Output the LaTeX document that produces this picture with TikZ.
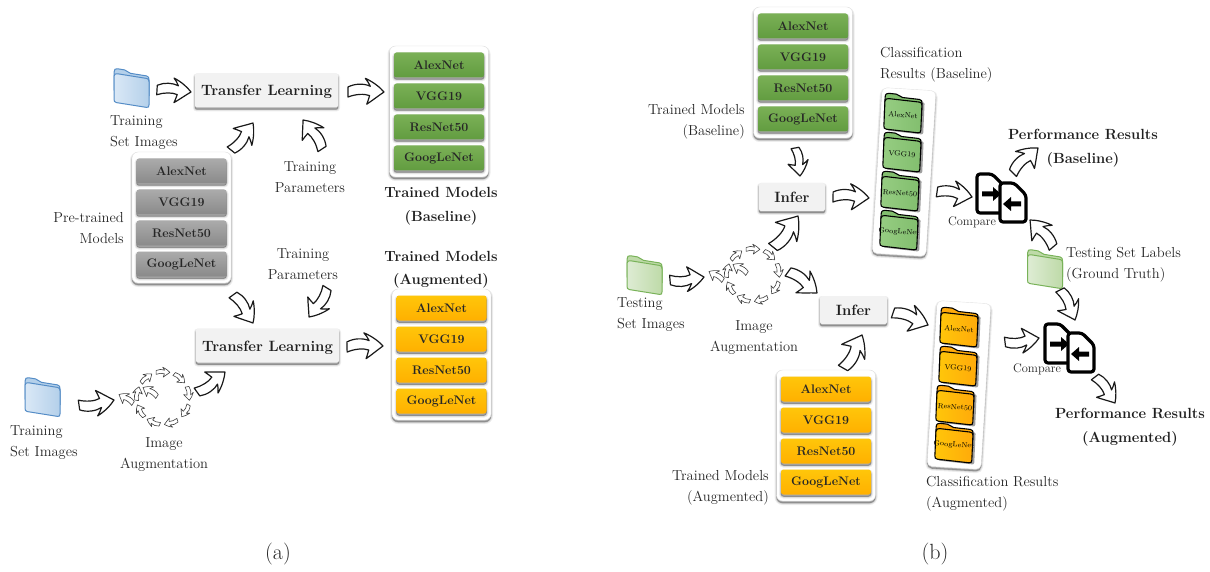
\documentclass[tikz,border=0pt]{standalone}
\usepackage{fontspec}
\usetikzlibrary{calc}
\definecolor{txt}{RGB}{38,38,38}
\tikzset{
  softshadow/.style={
    preaction={draw=black,fill=black,draw opacity=.07,fill opacity=.07,line width=4pt,transform canvas={yshift=-2pt}},
    preaction={draw=black,fill=black,draw opacity=.10,fill opacity=.10,line width=2pt,transform canvas={yshift=-2pt}},
    preaction={draw=black,fill=black,draw opacity=.15,fill opacity=.15,line width=.6pt,transform canvas={yshift=-2pt}}},
  lab/.style={inner sep=0pt,align=center,text=txt,yshift=-1.5pt,font=\fontsize{14.5}{21}\selectfont},
  labl/.style={lab,align=left,anchor=west},
  labr/.style={lab,align=right,anchor=east},
  head/.style={inner sep=0pt,align=center,text=black!88,yshift=-2pt,font=\fontsize{14.7}{23.5}\selectfont\bfseries},
  small/.style={inner sep=0pt,text=txt,font=\fontsize{12.4}{14}\selectfont},
  panel/.style={draw=black!12,fill=white,rounded corners=6pt,minimum width=99pt,minimum height=131pt,inner sep=0pt,softshadow},
  tallpanel/.style={draw=black!10,fill=white,rounded corners=5pt,minimum width=54pt,minimum height=166pt,inner sep=0pt,rotate=-3.5,softshadow},
  btn/.style={rounded corners=2.5pt,minimum width=90pt,minimum height=25pt,inner sep=0pt,softshadow,font=\fontsize{12.4}{14}\selectfont\bfseries,text=black!85},
  graybtn/.style={btn,top color=black!33,bottom color=black!46},
  greenbtn/.style={btn,top color={rgb,255:red,122;green,176;blue,86},bottom color={rgb,255:red,98;green,156;blue,64}},
  orangebtn/.style={btn,top color={rgb,255:red,255;green,198;blue,10},bottom color={rgb,255:red,255;green,176;blue,0}},
  procbox/.style={fill=black!5,rounded corners=2pt,inner sep=0pt,text height=12pt,text depth=1pt,softshadow,font=\fontsize{14.9}{16}\selectfont\bfseries,text=black!88},
  blockarrow/.style={draw=black!90,fill=white,line width=1.2pt,line join=round},
  tinyarrow/.style={draw=black!75,fill=white,line width=.6pt,line join=round},
  foldertext/.style={inner sep=0pt,rotate=-4,text=black,font=\fontsize{7.3}{8}\selectfont},
  pics/folder/.style n args={4}{code={
    % #1 left colour, #2 right colour, #3 outline, #4 outline width
    \path[draw=#3,line width=#4,line join=round,fill=#2]
      (-17.5,-13) .. controls (-17.5,-16) and (-16,-17) .. (-14,-17) -- (-7,-17) .. controls (-4,-17) and (-4,-14.5) .. (-1,-14.5) -- (15,-14.5) .. controls (17,-14.5) and (17.5,-13) .. (17.5,-11) -- (17.5,5) -- (-17.5,5) -- cycle;
    \path[draw=#3,line width=#4,line join=round,left color=#1,right color=#2]
      (-17.5,-9) .. controls (-17.5,-11) and (-16,-12) .. (-14,-12) -- (15,-12) .. controls (17,-12) and (17.5,-11) .. (17.5,-9) -- (17.5,14) .. controls (17.5,16) and (17,17) .. (15,17) -- (-15,17) .. controls (-17,17) and (-17.5,16) .. (-17.5,14) -- cycle;
  }},
  pics/foldershade/.style={code={
    \path[fill=black,fill opacity=.38,rounded corners=2pt] (-17.5,-14) -- (17.5,-14) -- (17.5,17) -- (-17.5,17) -- cycle;
  }},
  pics/docpair/.style={code={
    \path[draw=black,line width=3.2pt,fill=white,line join=round,rounded corners=3pt]
      (-25,-23) -- (-10,-23) -- (1,-12) -- (1,16) -- (-25,16) -- cycle;
    \path[fill=black] (-20,-5.5) -- (-9,-5.5) -- (-9,-10) -- (-1,-3) -- (-9,4) -- (-9,-.5) -- (-20,-.5) -- cycle;
    \path[draw=black,line width=3.2pt,fill=white,line join=round,rounded corners=3pt]
      (-2,-14) -- (12,-14) -- (24,-2) -- (24,25) -- (-2,25) -- cycle;
    \path[fill=black] (19,4.5) -- (9,4.5) -- (9,0) -- (1,7) -- (9,14) -- (9,9.5) -- (19,9.5) -- cycle;
  }}
}
% block arrow from one named coordinate to another
\newcommand{\blockconn}[4][blockarrow]{%
  \path let \p1=($(#3)-(#2)$) in \pgfextra{%
    \pgfmathsetmacro\harrang{atan2(\y1,\x1)}%
    \pgfmathsetmacro\harrlen{veclen(\x1,\y1)/100}%
    \xdef\harrang{\harrang}\xdef\harrscale{\harrlen}};
  \begin{scope}[shift={(#2)},rotate=\harrang,scale=\harrscale,yscale=#4]
    \path[#1] (0,-14) .. controls (20,-24) and (45,-24) .. (62,-16)
      .. controls (58,-24) and (54,-31) .. (48,-38)
      .. controls (70,-28) and (88,-14) .. (100,0)
      .. controls (85,10) and (70,22) .. (52,34)
      .. controls (55,26) and (58,18) .. (60,10)
      .. controls (45,4) and (20,6) .. (0,14) -- cycle;
  \end{scope}}
\newcommand{\conn}[4]{%
  \coordinate (#1t) at (#2);\coordinate (#1h) at (#3);
  \blockconn{#1t}{#1h}{#4}}
% ring of little arrows
\newcommand{\augring}[3]{%
  \coordinate (#1) at (#2,#3);
  \foreach \a in {-90,-50,-10,30,72,112,150,190,230}{
    \coordinate (#1s) at ($(#1)+(\a-15:26.5)$);
    \coordinate (#1e) at ($(#1)+(\a+15:26.5)$);
    \blockconn[tinyarrow]{#1s}{#1e}{1}
  }
  \coordinate (#1os) at ($(#1)+(-30,5.5)$);\coordinate (#1oe) at ($(#1)+(-44,-3.5)$);
  \blockconn[tinyarrow]{#1os}{#1oe}{-1}
  \coordinate (#1is) at ($(#1)+(-6,-1.5)$);\coordinate (#1ie) at ($(#1)+(-20,-10.5)$);
  \blockconn[tinyarrow]{#1is}{#1ie}{-1}}
% panel of four buttons
\newcommand{\modelstack}[4]{% name, centre x, first button y, button style
  \pgfmathsetmacro\ya{#3}\pgfmathsetmacro\yb{#3+31}\pgfmathsetmacro\yc{#3+62}\pgfmathsetmacro\yd{#3+93}\pgfmathsetmacro\ym{#3+46.5}
  \node[panel] (#1) at (#2,\ym) {};
  \node[#4] (#1a) at (#2,\ya) {AlexNet};
  \node[#4] (#1b) at (#2,\yb) {VGG19};
  \node[#4] (#1c) at (#2,\yc) {ResNet50};
  \node[#4] (#1d) at (#2,\yd) {GoogLeNet};}
\newcommand{\stackfolder}[6]{% name,x,y,col1,col2,text
  \pic[rotate=-2.5,yslant=-.07,scale=1.06] at ($(#2,#3)+(2.5,1.5)$) {foldershade};
  \pic[rotate=-2.5,yslant=-.07,scale=1.06] at (#2,#3) {folder={#4}{#5}{black}{1.1pt}};
  \node[foldertext] (#1) at ($(#2,#3)+(0,2)$) {#6};}
\begin{document}
\begin{tikzpicture}[x=1pt,y=-1pt]
\useasboundingbox (0,0) rectangle (1210,572);
\definecolor{blueA}{RGB}{218,232,246}\definecolor{blueB}{RGB}{180,208,234}\definecolor{blueE}{RGB}{84,140,198}
\definecolor{grnA}{RGB}{222,236,212}\definecolor{grnB}{RGB}{190,218,168}\definecolor{grnE}{RGB}{120,178,88}
\definecolor{sgA}{RGB}{150,205,130}\definecolor{sgB}{RGB}{130,190,110}
\definecolor{soA}{RGB}{255,198,10}\definecolor{soB}{RGB}{255,170,10}

% ---------- part (a)
\pic[yslant=-.16] at (131.5,88) {folder={blueA}{blueB}{blueE}{1pt}};
\node[labl] (la) at (110,131) {Training\\Set Images};
\node[procbox,minimum width=143pt,minimum height=34pt] (tl1) at (266.5,90.5) {Transfer Learning};
\node[lab] (lb) at (310,175.5) {Training\\Parameters};
\modelstack{pre}{181.5}{171}{graybtn}
\node[labr] (lc) at (124,226.5) {Pre-trained\\Models};
\modelstack{base}{439}{65}{greenbtn}
\node[head] (ld) at (441,204) {Trained Models\\(Baseline)};
\node[lab] (le) at (303,262.5) {Training\\Parameters};
\node[head] (lf) at (441,267.5) {Trained Models\\(Augmented)};
\modelstack{augm}{441.5}{308}{orangebtn}
\node[procbox,minimum width=143pt,minimum height=34pt] (tl2) at (267.5,345.5) {Transfer Learning};
\pic[yslant=-.16] at (42.5,397) {folder={blueA}{blueB}{blueE}{1pt}};
\node[labl] (lg) at (10,441.5) {Training\\Set Images};
\augring{ra}{163}{398}
\node[lab] (lh) at (164,453.5) {Image\\Augmentation};
\node[inner sep=0pt,font=\fontsize{22}{24}\selectfont,text=txt] (capa) at (278,554) {(a)};

\conn{a1}{157,90}{191,92}{1}
\conn{a2}{348,92}{384,92}{1}
\conn{a3}{231,150}{253,123}{-1}
\conn{a4}{322,149}{303,120}{-1}
\conn{a5}{233,295}{253,323}{1}
\conn{a6}{327,288}{309,317}{1}
\conn{a7}{347,347}{383,346}{1}
\conn{a8}{79,405}{114,400}{-1}
\conn{a9}{197,392}{225,372}{-1}

% ---------- part (b)
\modelstack{tb}{803}{26}{greenbtn}
\node[labr] (li) at (745,120.5) {Trained Models\\(Baseline)};
\node[labl] (lj) at (880,63.5) {Classification\\Results (Baseline)};
\node[tallpanel] (csb) at (904,172) {};
\stackfolder{fa}{903}{113}{sgA}{sgB}{AlexNet}
\stackfolder{fb}{902}{152}{sgA}{sgB}{VGG19}
\stackfolder{fc}{900}{191}{sgA}{sgB}{ResNet50}
\stackfolder{fd}{899}{230}{sgA}{sgB}{GoogLeNet}
\node[procbox,minimum width=66pt,minimum height=28pt] (if1) at (792,197) {Infer};
\node[procbox,minimum width=67pt,minimum height=28pt] (if2) at (853.5,310) {Infer};
\pic[yslant=-.16] at (644.5,275) {folder={grnA}{grnB}{grnE}{1pt}};
\node[labl] (lk) at (617,313.5) {Testing\\Set Images};
\augring{rb}{753}{275}
\node[lab] (ll) at (754,336.5) {Image\\Augmentation};
\modelstack{ta}{826}{389}{orangebtn}
\node[labr] (lm) at (769,486.5) {Trained Models\\(Augmented)};
\node[tallpanel] (csa) at (959,385) {};
\stackfolder{ga}{959}{327}{soA}{soB}{AlexNet}
\stackfolder{gb}{958}{366}{soA}{soB}{VGG19}
\stackfolder{gc}{955}{405}{soA}{soB}{ResNet50}
\stackfolder{gd}{954}{443}{soA}{soB}{GoogLeNet}
\node[labl] (ln) at (926,492.5) {Classification Results\\(Augmented)};
\pic at (1002,197) {docpair};
\node[small] (cmp1) at (972,222) {Compare};
\pic at (1070,347) {docpair};
\node[small] (cmp2) at (1037,369) {Compare};
\node[head] (lo) at (1083,146) {Performance Results\\(Baseline)};
\node[head] (lp) at (1130,425) {Performance Results\\(Augmented)};
\pic[yslant=-.16] at (1045,269) {folder={grnA}{grnB}{grnE}{1pt}};
\node[labl] (lq) at (1066,263.5) {Testing Set Labels\\(Ground Truth)};
\node[inner sep=0pt,font=\fontsize{22}{24}\selectfont,text=txt] (capb) at (935,554) {(b)};

\conn{b1}{795,148}{800,176}{1}
\conn{b2}{833,197}{869,198}{1}
\conn{b3}{773,247}{798,216}{-1}
\conn{b4}{788,272}{817,293}{1}
\conn{b5}{670,280}{704,277}{-1}
\conn{b6}{893,313}{928,325}{1}
\conn{b7}{843,368}{862,335}{-1}
\conn{b8}{937,192}{972,197}{1}
\conn{b9}{1013,173}{1038,148}{1}
\conn{b10}{1053,247}{1030,220}{-1}
\conn{b11}{1060,290}{1075,320}{1}
\conn{b12}{1005,342}{1039,338}{-1}
\conn{b13}{1095,377}{1115,403}{1}
\end{tikzpicture}
\end{document}
